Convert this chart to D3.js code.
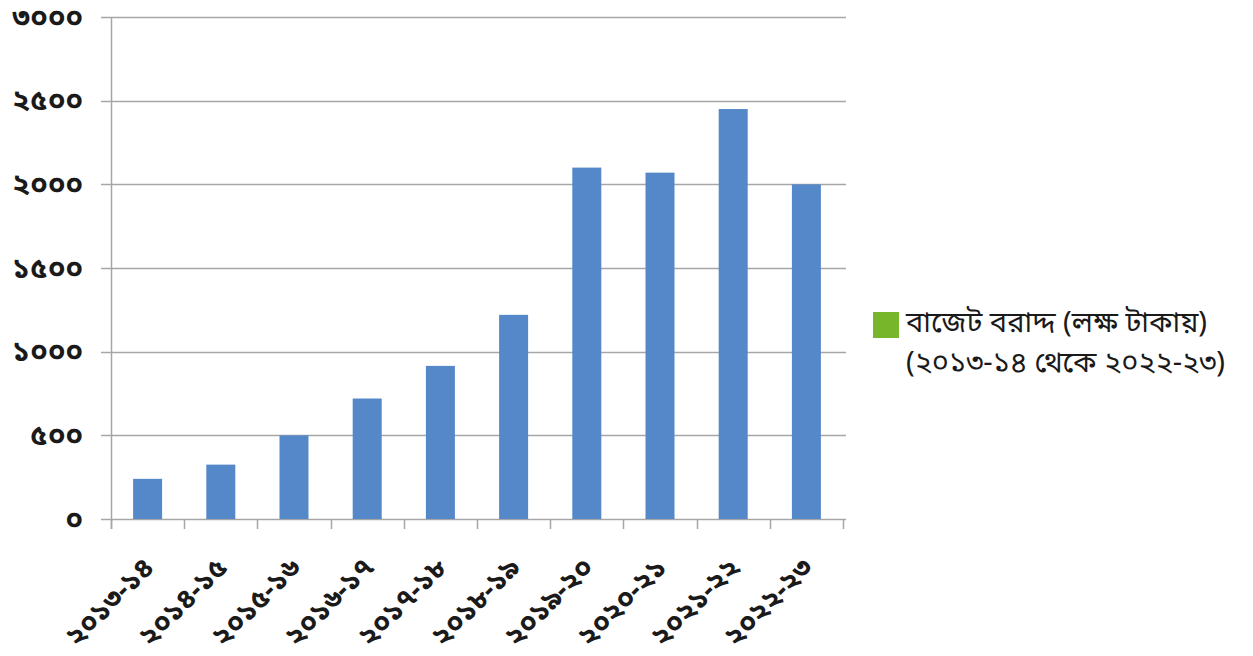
<!DOCTYPE html>
<html><head><meta charset="utf-8">
<script src="https://cdn.jsdelivr.net/npm/d3@7"></script>
<style>
body{margin:0;background:#fff;}
text{font-family:"Noto Sans Bengali","Noto Serif Bengali","Lohit Bengali","FreeSans","Noto Sans",sans-serif;}
</style></head>
<body><svg id="c" width="1253" height="656"></svg>
<script>
const categories = ["২০১৩-১৪","২০১৪-১৫","২০১৫-১৬","২০১৬-১৭","২০১৭-১৮","২০১৮-১৯","২০১৯-২০","২০২০-২১","২০২১-২২","২০২২-২৩"];
const values = [240, 325, 500, 720, 915, 1220, 2100, 2070, 2450, 2000];
const yTicks = [0, 500, 1000, 1500, 2000, 2500, 3000];
const yTickLabels = ["০","৫০০","১০০০","১৫০০","২০০০","২৫০০","৩০০০"];
const legendLines = ["বাজেট বরাদ্দ (লক্ষ টাকায়)","(২০১৩-১৪ থেকে ২০২২-২৩)"];

(function(){
const svg = d3.select("#c");
const pl = 111, pr = 843, pt = 17, pb = 519;
const xb = d3.scaleBand().domain(categories).range([pl, pr]);
const y = d3.scaleLinear().domain([0, 3000]).range([pb, pt]);
const gridColor = "#a6a6a6";

svg.append("g").selectAll("line").data(yTicks).join("line")
  .attr("x1", pl - 10).attr("x2", pr + 3)
  .attr("y1", d => Math.round(y(d)) + 0.5).attr("y2", d => Math.round(y(d)) + 0.5)
  .attr("stroke", gridColor).attr("stroke-width", 1.5);

svg.append("line").attr("x1", pl + 0.5).attr("x2", pl + 0.5).attr("y1", pt).attr("y2", pb + 10)
  .attr("stroke", gridColor).attr("stroke-width", 1.5);

const bounds = categories.map(c => xb(c)).concat([pr]);
svg.append("g").selectAll("line").data(bounds).join("line")
  .attr("x1", d => Math.round(d) + 0.5).attr("x2", d => Math.round(d) + 0.5)
  .attr("y1", pb).attr("y2", pb + 10)
  .attr("stroke", gridColor).attr("stroke-width", 1.5);

svg.append("g").selectAll("rect").data(values).join("rect")
  .attr("x", (d, i) => xb(categories[i]) + xb.bandwidth() / 2 - 14.5)
  .attr("width", 29)
  .attr("y", d => y(d)).attr("height", d => y(0) - y(d))
  .attr("fill", "#5588c8");

svg.append("g").selectAll("text").data(yTicks).join("text")
  .attr("x", 83).attr("y", d => y(d)).attr("dy", "0.33em")
  .attr("text-anchor", "end").attr("font-size", 29).attr("font-weight", "bold").attr("fill", "#1a1a1a")
  .text((d, i) => yTickLabels[i]);

svg.append("g").selectAll("text").data(categories).join("text")
  .attr("transform", c => `translate(${xb(c) + xb.bandwidth() / 2 + 8},${pb + 50}) rotate(-45)`)
  .attr("text-anchor", "end").attr("font-size", 28).attr("font-weight", "bold").attr("fill", "#1a1a1a")
  .text(c => c);

svg.append("rect").attr("x", 873).attr("y", 312).attr("width", 26).attr("height", 26).attr("fill", "#77b52a");
svg.append("g").selectAll("text").data(legendLines).join("text")
  .attr("x", 906).attr("y", (d, i) => 332 + i * 40)
  .attr("font-size", 29).attr("fill", "#1a1a1a")
  .text(d => d);
})();
</script></body></html>
